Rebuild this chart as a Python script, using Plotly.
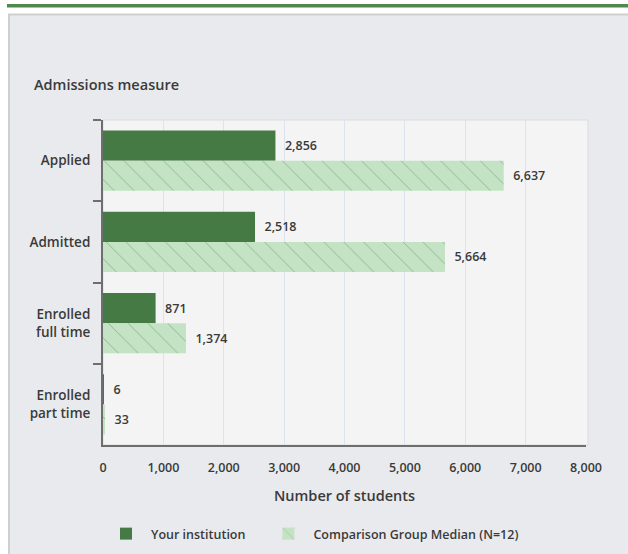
import plotly.graph_objects as go

categories = ["Applied", "Admitted", "Enrolled<br>full time", "Enrolled<br>part time"]
your_institution = [2856, 2518, 871, 6]
comparison_median = [6637, 5664, 1374, 33]
x_ticks = [0, 1000, 2000, 3000, 4000, 5000, 6000, 7000, 8000]
x_tick_labels = ["0", "1,000", "2,000", "3,000", "4,000", "5,000", "6,000", "7,000", "8,000"]

FONT = "Open Sans"
TXT = "#3a3a3a"
WT = 600

# plot area pixel geometry
L, R, T, B = 103, 586, 120, 445
W, H = 628, 554
pw, ph = R - L, B - T


def px(x):
    return (x - L) / pw


def py(y):
    return (B - y) / ph


fig = go.Figure()
fig.add_trace(go.Bar(
    y=categories, x=your_institution, orientation="h",
    name="Your institution\u00a0\u00a0\u00a0\u00a0",
    marker=dict(color="#467a44", line=dict(width=0)),
    texttemplate="  %{x:,}", textposition="outside",
    textfont=dict(family=FONT, size=12.5, color=TXT, weight=WT),
    cliponaxis=False,
))
fig.add_trace(go.Bar(
    y=categories, x=comparison_median, orientation="h",
    name="Comparison Group Median (N=12)",
    marker=dict(color="#c4e2c4", line=dict(width=0),
                pattern=dict(shape="\\", fgcolor="#5f925c", bgcolor="#c4e2c4",
                             size=14, solidity=0.07, fillmode="overlay")),
    texttemplate="  %{x:,}", textposition="outside",
    textfont=dict(family=FONT, size=12.5, color=TXT, weight=WT),
    cliponaxis=False,
))

shapes = [
    # top green rule
    dict(type="rect", xref="paper", yref="paper", x0=px(7), x1=px(W + 20), y0=py(7.5), y1=py(4),
         fillcolor="#4e8a4b", line=dict(width=0), layer="below"),
    # panel
    dict(type="rect", xref="paper", yref="paper", x0=px(9), x1=px(W + 30), y0=py(H + 30), y1=py(14.5),
         fillcolor="#e9eaee", line=dict(color="#cfcfcf", width=2), layer="below"),
    # plot background
    dict(type="rect", xref="paper", yref="paper", x0=0, x1=1.004, y0=0, y1=1,
         fillcolor="#f4f4f4", line=dict(color="#dcdcdc", width=1), layer="below"),
]

fig.update_layout(
    width=W, height=H,
    margin=dict(l=L, r=W - R, t=T, b=H - B, pad=0, autoexpand=False),
    paper_bgcolor="white",
    plot_bgcolor="rgba(0,0,0,0)",
    barmode="group", bargap=0.26, bargroupgap=0,
    font=dict(family=FONT, size=12, color=TXT, weight=WT),
    shapes=shapes,
    showlegend=True,
    legend=dict(orientation="h", x=px(101), xanchor="left", y=py(534), yanchor="middle",
                font=dict(family=FONT, size=12.5, color=TXT, weight=WT),
                bgcolor="rgba(0,0,0,0)", traceorder="normal", itemwidth=40),
    annotations=[dict(text="Admissions measure", xref="paper", yref="paper",
                      x=px(32), y=py(85), xanchor="left", yanchor="middle", showarrow=False,
                      font=dict(family=FONT, size=14.5, color=TXT, weight=WT))],
)
fig.update_xaxes(
    range=[0, 8000], tickvals=x_ticks, ticktext=x_tick_labels,
    showgrid=True, gridcolor="#dde3ee", gridwidth=1,
    showline=True, linecolor="#6e6e6e", linewidth=2,
    ticks="outside", ticklen=10, tickcolor="rgba(0,0,0,0)",
    zeroline=False,
    title=dict(text="Number of students", standoff=16,
               font=dict(family=FONT, size=14.5, color=TXT, weight=WT)),
    tickfont=dict(family=FONT, size=12.5, color=TXT, weight=WT),
)
fig.update_yaxes(
    autorange="reversed", showline=True, linecolor="#6e6e6e", linewidth=2,
    ticks="outside", ticklen=8, tickcolor="#6e6e6e", tickwidth=2, tickson="boundaries",
    ticklabelstandoff=8,
    showgrid=False,
    tickfont=dict(family=FONT, size=13.5, color=TXT, weight=WT),
)

fig.write_html("out.html", config={"displayModeBar": False},
               post_script="document.body.style.margin='0';")
